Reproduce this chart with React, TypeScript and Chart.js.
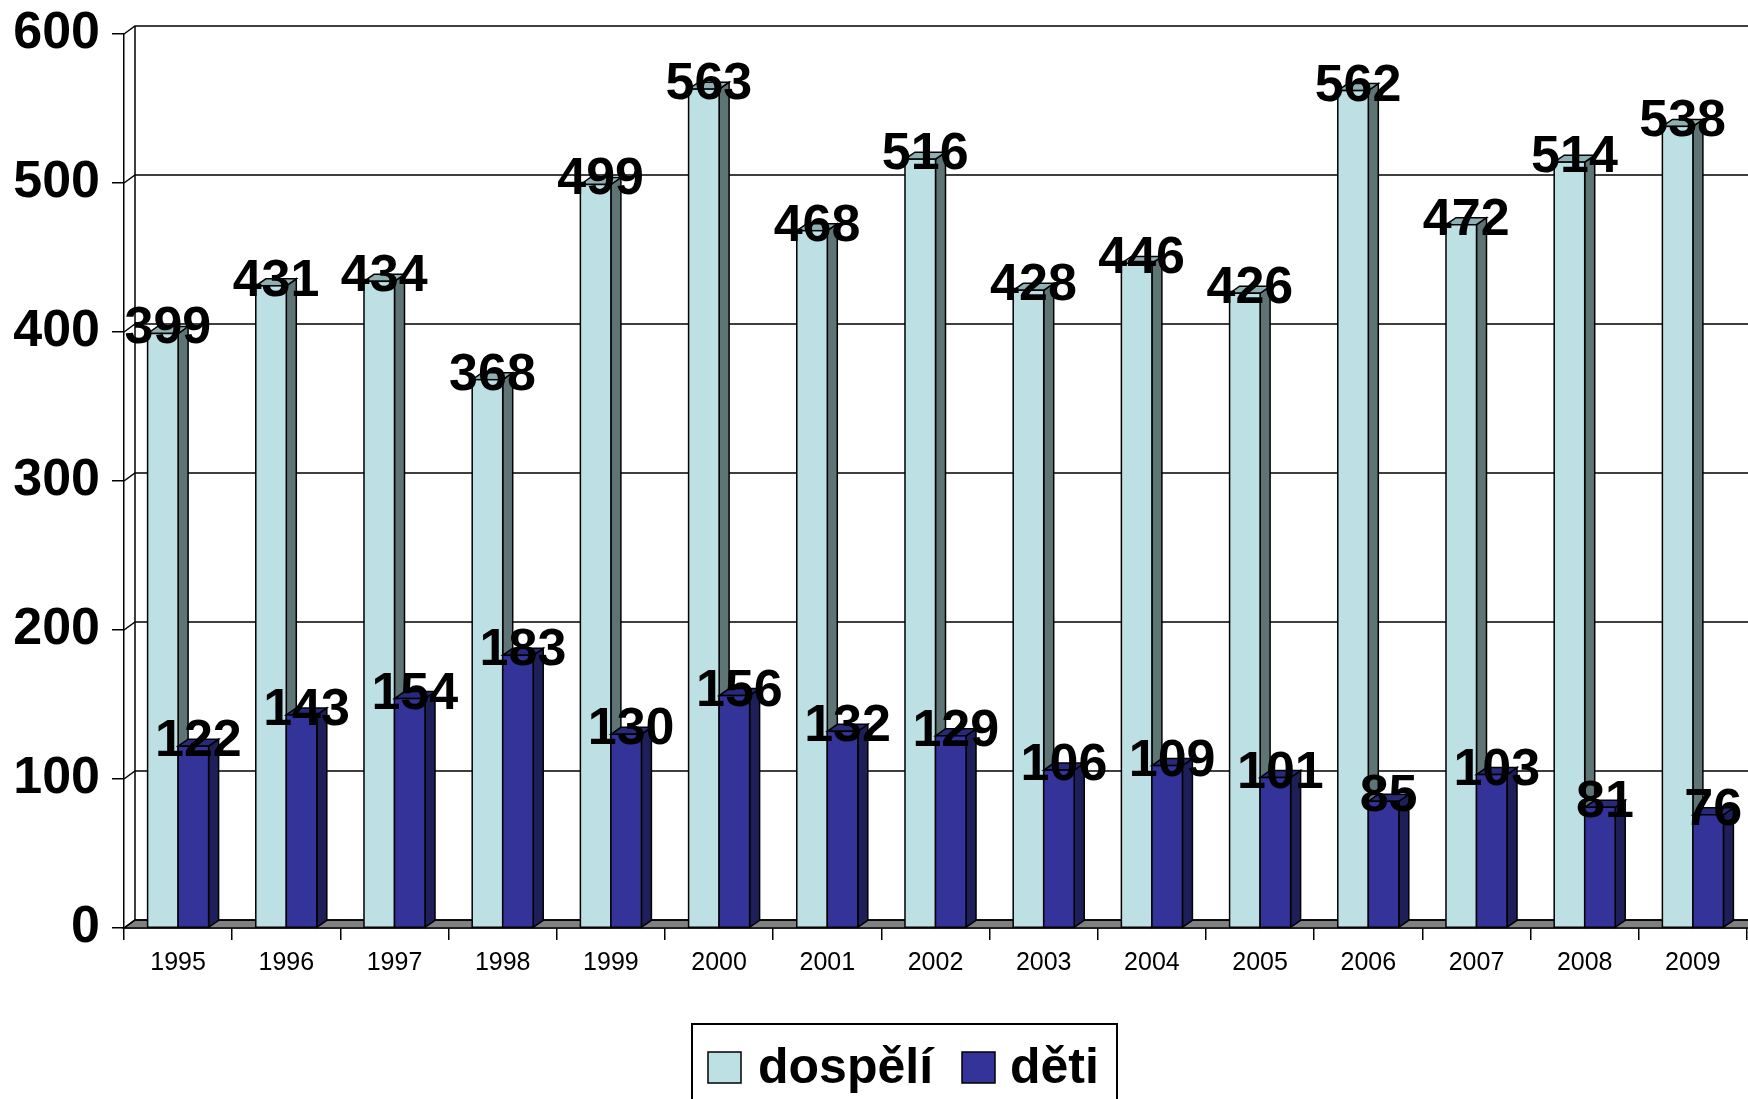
import React, { useEffect, useRef } from "react";
import { Chart, registerables } from "chart.js";

Chart.register(...registerables);

const years = ["1995", "1996", "1997", "1998", "1999", "2000", "2001", "2002", "2003", "2004", "2005", "2006", "2007", "2008", "2009"];
const dospeli = [399, 431, 434, 368, 499, 563, 468, 516, 428, 446, 426, 562, 472, 514, 538];
const deti = [122, 143, 154, 183, 130, 156, 132, 129, 106, 109, 101, 85, 103, 81, 76];
const yTickValues = [0, 100, 200, 300, 400, 500, 600];
const seriesLabels = ["dospělí", "děti"];

const frontColors = ["#BCE0E3", "#333399"];
const sideColors = ["#5E7475", "#1E1E58"];
const topColors = ["#8FB0B3", "#29297A"];

const FONT = "'Liberation Sans', Arial, Helvetica, sans-serif";
const DX = 10;
const DY = 7;
const WX = 11;
const WY = 8;

const threeDPlugin = {
  id: "threeD",
  beforeDatasetsDraw(chart: any) {
    const { ctx, chartArea } = chart;
    const y = chart.scales.y;
    const left = chartArea.left;
    const right = chart.width;
    const y0 = y.getPixelForValue(0);
    ctx.save();
    ctx.strokeStyle = "#000";
    ctx.lineWidth = 1.5;
    ctx.beginPath();
    ctx.moveTo(left, y0);
    ctx.lineTo(left + WX, y0 - WY);
    ctx.lineTo(right + 2, y0 - WY);
    ctx.lineTo(right + 2, y0);
    ctx.closePath();
    ctx.fillStyle = "#808080";
    ctx.fill();
    ctx.stroke();
    yTickValues.forEach((v) => {
      const yy = y.getPixelForValue(v);
      ctx.beginPath();
      ctx.moveTo(left, yy);
      ctx.lineTo(left + WX, yy - WY);
      ctx.lineTo(right + 2, yy - WY);
      ctx.stroke();
    });
    const yTop = y.getPixelForValue(yTickValues[yTickValues.length - 1]);
    ctx.beginPath();
    ctx.moveTo(left + WX, yTop - WY);
    ctx.lineTo(left + WX, y0 - WY);
    ctx.stroke();
    ctx.restore();
  },
  afterDatasetsDraw(chart: any) {
    const { ctx } = chart;
    const n = chart.data.labels.length;
    ctx.save();
    ctx.strokeStyle = "#000";
    ctx.lineWidth = 1.5;
    ctx.lineJoin = "miter";
    for (let i = 0; i < n; i++) {
      chart.data.datasets.forEach((ds: any, d: number) => {
        const meta = chart.getDatasetMeta(d);
        const bar = meta.data[i];
        if (!bar) return;
        const p = bar.getProps(["x", "y", "base", "width"], true);
        const l = p.x - p.width / 2;
        const r = p.x + p.width / 2;
        const t = p.y;
        const b = p.base;
        ctx.beginPath();
        ctx.moveTo(r, t);
        ctx.lineTo(r + DX, t - DY);
        ctx.lineTo(r + DX, b - DY);
        ctx.lineTo(r, b);
        ctx.closePath();
        ctx.fillStyle = sideColors[d];
        ctx.fill();
        ctx.stroke();
        ctx.beginPath();
        ctx.moveTo(l, t);
        ctx.lineTo(l + DX, t - DY);
        ctx.lineTo(r + DX, t - DY);
        ctx.lineTo(r, t);
        ctx.closePath();
        ctx.fillStyle = topColors[d];
        ctx.fill();
        ctx.stroke();
        ctx.fillStyle = frontColors[d];
        ctx.fillRect(l, t, r - l, b - t);
        ctx.strokeRect(l, t, r - l, b - t);
      });
    }
    ctx.fillStyle = "#000";
    ctx.font = `bold 52px ${FONT}`;
    ctx.textAlign = "center";
    ctx.textBaseline = "alphabetic";
    chart.data.datasets.forEach((ds: any, d: number) => {
      const meta = chart.getDatasetMeta(d);
      meta.data.forEach((bar: any, i: number) => {
        const p = bar.getProps(["x", "y"], true);
        ctx.fillText(String(ds.data[i]), p.x + DX / 2, p.y + 10);
      });
    });
    ctx.restore();
  },
  afterDraw(chart: any) {
    const { ctx } = chart;
    ctx.save();
    ctx.strokeStyle = "#000";
    ctx.lineWidth = 2;
    ctx.strokeRect(692, 1024, 425, 120);
    const items = [
      { sx: 708, tx: 758 },
      { sx: 962, tx: 1010 },
    ];
    ctx.font = `bold 50px ${FONT}`;
    ctx.textAlign = "left";
    ctx.textBaseline = "alphabetic";
    chart.data.datasets.forEach((ds: any, d: number) => {
      const it = items[d];
      ctx.fillStyle = frontColors[d];
      ctx.fillRect(it.sx, 1052, 33, 31);
      ctx.lineWidth = 1.5;
      ctx.strokeRect(it.sx, 1052, 33, 31);
      ctx.fillStyle = "#000";
      ctx.fillText(ds.label, it.tx, 1083);
    });
    ctx.restore();
  },
};

export default function App() {
  const ref = useRef<HTMLCanvasElement | null>(null);
  useEffect(() => {
    document.body.style.margin = "0";
    const canvas = ref.current;
    if (!canvas) return;
    const chart = new Chart(canvas, {
      type: "bar",
      data: {
        labels: years,
        datasets: [
          {
            label: seriesLabels[0],
            data: dospeli,
            backgroundColor: frontColors[0],
            borderColor: "#000",
            borderWidth: 1.5,
            categoryPercentage: 0.564,
            barPercentage: 1,
          },
          {
            label: seriesLabels[1],
            data: deti,
            backgroundColor: frontColors[1],
            borderColor: "#000",
            borderWidth: 1.5,
            categoryPercentage: 0.564,
            barPercentage: 1,
          },
        ],
      },
      options: {
        responsive: false,
        animation: false,
        devicePixelRatio: 1,
        layout: { padding: { top: 34, left: 0, right: 1, bottom: 0 } },
        plugins: {
          legend: { display: false },
          tooltip: { enabled: false },
          title: { display: false },
        },
        scales: {
          x: {
            offset: true,
            grid: {
              display: true,
              offset: true,
              drawOnChartArea: false,
              drawTicks: true,
              tickLength: 12,
              color: "#000",
              lineWidth: 1.5,
            },
            border: { display: true, color: "#000", width: 1.5 },
            ticks: {
              color: "#000",
              font: { family: FONT, size: 25 },
              padding: 8,
              maxRotation: 0,
              autoSkip: false,
            },
            afterFit: (scale: any) => {
              scale.height = 171;
            },
          },
          y: {
            min: 0,
            max: 600,
            grid: {
              display: true,
              drawOnChartArea: false,
              drawTicks: true,
              tickLength: 12,
              color: "#000",
              lineWidth: 1.5,
            },
            border: { display: true, color: "#000", width: 1.5 },
            afterBuildTicks: (scale: any) => {
              scale.ticks = yTickValues.map((v) => ({ value: v }));
            },
            ticks: {
              color: "#000",
              font: { family: FONT, size: 52, weight: "bold" },
              padding: 12,
            },
            afterFit: (scale: any) => {
              scale.width = 124;
              scale.paddingTop = 0;
              scale.paddingBottom = 0;
            },
          },
        },
      },
      plugins: [threeDPlugin],
    } as any);
    return () => chart.destroy();
  }, []);
  return (
    <div style={{ position: "absolute", left: 0, top: 0, width: 1748, height: 1099, background: "#fff" }}>
      <canvas ref={ref} width={1748} height={1099} style={{ display: "block", width: 1748, height: 1099 }} />
    </div>
  );
}
